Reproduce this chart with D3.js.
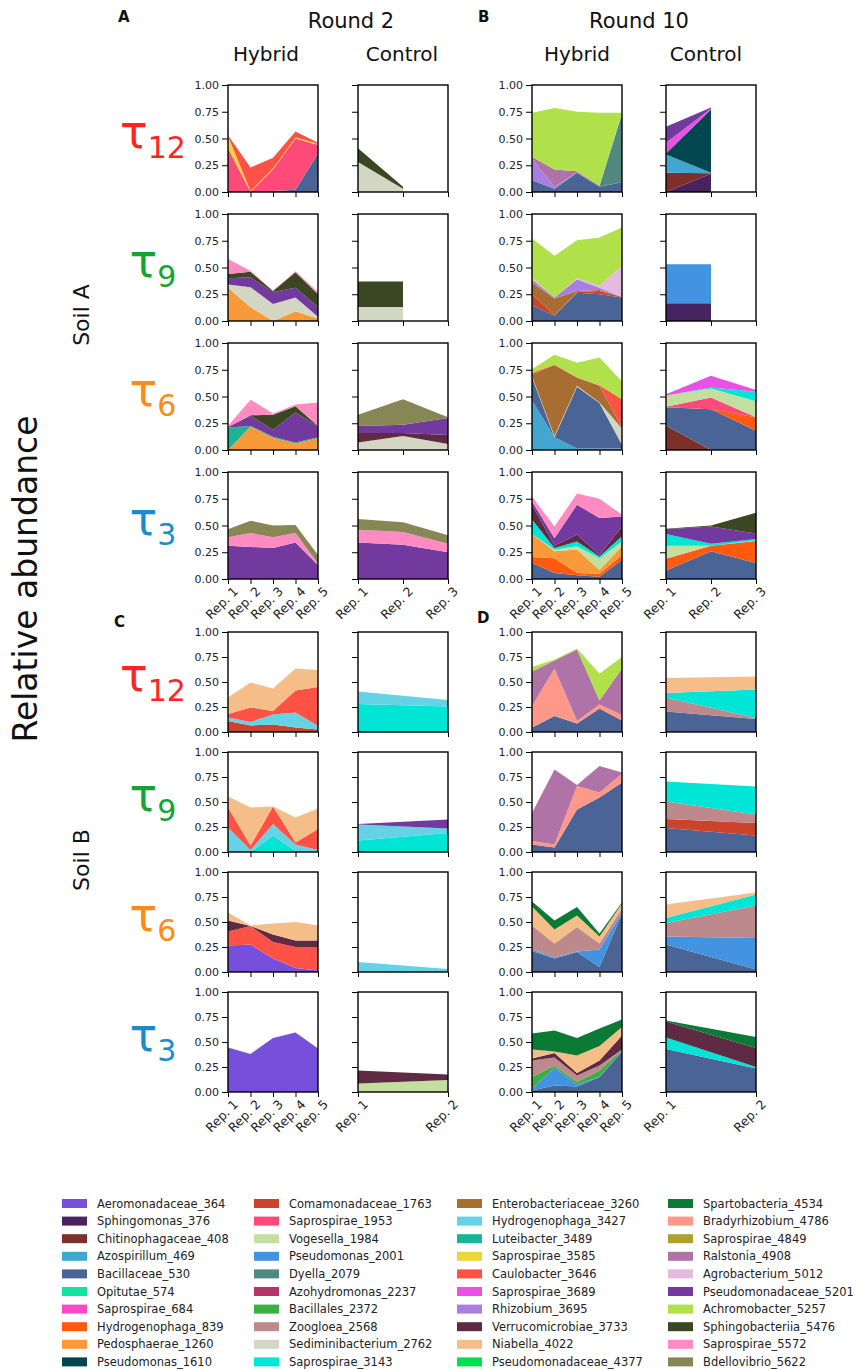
<!DOCTYPE html>
<html>
<head>
<meta charset="utf-8">
<script src="https://cdn.jsdelivr.net/npm/d3@7/dist/d3.min.js"></script>
<style>
  body { margin: 0; background: #fff; }
  text { font-family: "DejaVu Sans", sans-serif; }
</style>
</head>
<body>
<svg id="fig" width="857" height="1370"></svg>
<script>
// taxa in legend order (also the stacking order, bottom to top)
const taxa = ["Aeromonadaceae_364", "Sphingomonas_376", "Chitinophagaceae_408", "Azospirillum_469", "Bacillaceae_530",
  "Opitutae_574", "Saprospirae_684", "Hydrogenophaga_839", "Pedosphaerae_1260", "Pseudomonas_1610",
  "Comamonadaceae_1763", "Saprospirae_1953", "Vogesella_1984", "Pseudomonas_2001", "Dyella_2079",
  "Azohydromonas_2237", "Bacillales_2372", "Zoogloea_2568", "Sediminibacterium_2762", "Saprospirae_3143",
  "Enterobacteriaceae_3260", "Hydrogenophaga_3427", "Luteibacter_3489", "Saprospirae_3585", "Caulobacter_3646",
  "Saprospirae_3689", "Rhizobium_3695", "Verrucomicrobiae_3733", "Niabella_4022", "Pseudomonadaceae_4377",
  "Spartobacteria_4534", "Bradyrhizobium_4786", "Saprospirae_4849", "Ralstonia_4908", "Agrobacterium_5012",
  "Pseudomonadaceae_5201", "Achromobacter_5257", "Sphingobacteriia_5476", "Saprospirae_5572", "Bdellovibrio_5622"];
const taxaColors = ["#7650db", "#47235f", "#7d2f2a", "#42a7d0", "#4a6595",
  "#12e3a0", "#f74bc3", "#ff5a0f", "#f99a3a", "#02464f",
  "#c9442a", "#fe4a78", "#c3dfa0", "#4293e0", "#51897f",
  "#b5346a", "#3bb040", "#bd898d", "#d3d6c2", "#00e5d6",
  "#a86d31", "#66d2e5", "#1bb495", "#edd53a", "#ff5247",
  "#e951e4", "#a87ee0", "#5f2a43", "#f5bd87", "#00e050",
  "#0b7a34", "#ff9888", "#afa030", "#b073a8", "#e5badf",
  "#723a9f", "#b0e04a", "#3a4722", "#ff8bc2", "#878755"];

const tauNames = ["12", "9", "6", "3"];
const tauColors = ["#ff2424", "#12a534", "#ff8a14", "#1a8ccc"];
const hybridReps = ["Rep. 1", "Rep. 2", "Rep. 3", "Rep. 4", "Rep. 5"];
const controlRepsA = ["Rep. 1", "Rep. 2", "Rep. 3"];
const controlRepsB = ["Rep. 1", "Rep. 2"];
const yTicks = [0, 0.25, 0.5, 0.75, 1];

// ---- Soil A, Round 2 ----
const A2_t12_hybrid = [
  ["Bacillaceae_530", [0.01, 0.0, 0.01, 0.02, 0.36]],
  ["Saprospirae_1953", [0.40, 0.0, 0.20, 0.48, 0.08]],
  ["Saprospirae_3585", [0.11, 0.01, 0.01, 0.01, 0.01]],
  ["Caulobacter_3646", [0.01, 0.22, 0.10, 0.055, 0.01]]];
const A2_t12_control = [
  ["Sediminibacterium_2762", [0.28, 0.03, null]],
  ["Sphingobacteriia_5476", [0.13, 0.02, null]]];
const A2_t9_hybrid = [
  ["Pedosphaerae_1260", [0.31, 0.13, 0.0, 0.09, 0.02]],
  ["Sediminibacterium_2762", [0.03, 0.185, 0.16, 0.13, 0.02]],
  ["Pseudomonadaceae_5201", [0.06, 0.095, 0.11, 0.09, 0.09]],
  ["Sphingobacteriia_5476", [0.04, 0.05, 0.01, 0.145, 0.12]],
  ["Saprospirae_5572", [0.14, 0.01, 0.005, 0.01, 0.02]]];
const A2_t9_control = [
  ["Sediminibacterium_2762", [0.13, 0.13, null]],
  ["Sphingobacteriia_5476", [0.24, 0.24, null]]];
const A2_t6_hybrid = [
  ["Pedosphaerae_1260", [0.0, 0.22, 0.115, 0.06, 0.11]],
  ["Luteibacter_3489", [0.21, 0.005, 0.01, 0.01, 0.01]],
  ["Pseudomonadaceae_5201", [0.005, 0.095, 0.065, 0.28, 0.10]],
  ["Sphingobacteriia_5476", [0.0, 0.005, 0.14, 0.06, 0.005]],
  ["Saprospirae_5572", [0.01, 0.145, 0.01, 0.015, 0.22]]];
const A2_t6_control = [
  ["Sediminibacterium_2762", [0.07, 0.13, 0.055]],
  ["Verrucomicrobiae_3733", [0.09, 0.03, 0.085]],
  ["Pseudomonadaceae_5201", [0.065, 0.075, 0.16]],
  ["Bdellovibrio_5622", [0.105, 0.24, 0.005]]];
const A2_t3_hybrid = [
  ["Pseudomonadaceae_5201", [0.31, 0.30, 0.29, 0.34, 0.13]],
  ["Saprospirae_5572", [0.08, 0.13, 0.10, 0.09, 0.015]],
  ["Bdellovibrio_5622", [0.075, 0.115, 0.11, 0.075, 0.08]]];
const A2_t3_control = [
  ["Pseudomonadaceae_5201", [0.34, 0.32, 0.25]],
  ["Saprospirae_5572", [0.12, 0.12, 0.08]],
  ["Bdellovibrio_5622", [0.10, 0.09, 0.08]]];

// ---- Soil A, Round 10 ----
const A10_t12_hybrid = [
  ["Bacillaceae_530", [0.11, 0.03, 0.18, 0.05, 0.09]],
  ["Dyella_2079", [0.0, 0.0, 0.0, 0.005, 0.64]],
  ["Rhizobium_3695", [0.2, 0.02, 0.005, 0.0, 0.0]],
  ["Ralstonia_4908", [0.02, 0.16, 0.01, 0.005, 0.005]],
  ["Achromobacter_5257", [0.41, 0.575, 0.555, 0.68, 0.005]]];
const A10_t12_control = [
  ["Sphingomonas_376", [0.0, 0.17, null]],
  ["Chitinophagaceae_408", [0.18, 0.005, null]],
  ["Azospirillum_469", [0.17, 0.005, null]],
  ["Pseudomonas_1610", [0.01, 0.59, null]],
  ["Saprospirae_3689", [0.10, 0.01, null]],
  ["Pseudomonadaceae_5201", [0.15, 0.01, null]]];
const A10_t9_hybrid = [
  ["Bacillaceae_530", [0.15, 0.05, 0.265, 0.25, 0.22]],
  ["Comamonadaceae_1763", [0.1, 0.005, 0.005, 0.03, 0.005]],
  ["Enterobacteriaceae_3260", [0.11, 0.155, 0.01, 0.01, 0.0]],
  ["Rhizobium_3695", [0.03, 0.01, 0.11, 0.02, 0.0]],
  ["Agrobacterium_5012", [0.015, 0.0, 0.01, 0.02, 0.29]],
  ["Achromobacter_5257", [0.365, 0.39, 0.355, 0.45, 0.36]]];
const A10_t9_control = [
  ["Sphingomonas_376", [0.165, 0.165, null]],
  ["Pseudomonas_2001", [0.365, 0.365, null]]];
const A10_t6_hybrid = [
  ["Azospirillum_469", [0.465, 0.12, 0.015, 0.015, 0.015]],
  ["Bacillaceae_530", [0.215, 0.0, 0.575, 0.425, 0.035]],
  ["Sediminibacterium_2762", [0.01, 0.01, 0.01, 0.005, 0.15]],
  ["Enterobacteriaceae_3260", [0.015, 0.665, 0.075, 0.155, 0.01]],
  ["Caulobacter_3646", [0.015, 0.005, 0.005, 0.005, 0.265]],
  ["Achromobacter_5257", [0.035, 0.09, 0.135, 0.26, 0.165]]];
const A10_t6_control = [
  ["Chitinophagaceae_408", [0.23, 0.0, 0.0]],
  ["Bacillaceae_530", [0.17, 0.38, 0.18]],
  ["Hydrogenophaga_839", [0.0, 0.0, 0.125]],
  ["Saprospirae_1953", [0.005, 0.11, 0.0]],
  ["Vogesella_1984", [0.105, 0.085, 0.15]],
  ["Saprospirae_3143", [0.0, 0.01, 0.09]],
  ["Saprospirae_3689", [0.01, 0.11, 0.015]]];
const A10_t3_hybrid = [
  ["Bacillaceae_530", [0.15, 0.055, 0.035, 0.02, 0.18]],
  ["Hydrogenophaga_839", [0.055, 0.14, 0.02, 0.03, 0.045]],
  ["Pedosphaerae_1260", [0.215, 0.065, 0.22, 0.035, 0.08]],
  ["Vogesella_1984", [0.0, 0.015, 0.03, 0.11, 0.045]],
  ["Saprospirae_3143", [0.135, 0.015, 0.045, 0.015, 0.05]],
  ["Verrucomicrobiae_3733", [0.14, 0.02, 0.065, 0.015, 0.09]],
  ["Pseudomonadaceae_5201", [0.03, 0.07, 0.28, 0.345, 0.095]],
  ["Saprospirae_5572", [0.045, 0.11, 0.105, 0.18, 0.015]]];
const A10_t3_control = [
  ["Bacillaceae_530", [0.08, 0.26, 0.15]],
  ["Hydrogenophaga_839", [0.11, 0.05, 0.205]],
  ["Vogesella_1984", [0.12, 0.0, 0.005]],
  ["Saprospirae_3143", [0.11, 0.02, 0.015]],
  ["Pseudomonadaceae_5201", [0.045, 0.16, 0.05]],
  ["Sphingobacteriia_5476", [0.005, 0.01, 0.195]]];

// ---- Soil B, Round 2 ----
const B2_t12_hybrid = [
  ["Comamonadaceae_1763", [0.11, 0.065, 0.075, 0.045, 0.025]],
  ["Hydrogenophaga_3427", [0.035, 0.035, 0.1, 0.15, 0.035]],
  ["Caulobacter_3646", [0.035, 0.145, 0.035, 0.22, 0.39]],
  ["Niabella_4022", [0.165, 0.25, 0.225, 0.22, 0.17]]];
const B2_t12_control = [
  ["Saprospirae_3143", [0.28, 0.255]],
  ["Hydrogenophaga_3427", [0.125, 0.065]]];
const B2_t9_hybrid = [
  ["Saprospirae_3143", [0.0, 0.0, 0.165, 0.01, 0.0]],
  ["Hydrogenophaga_3427", [0.245, 0.02, 0.115, 0.065, 0.02]],
  ["Caulobacter_3646", [0.2, 0.045, 0.175, 0.02, 0.21]],
  ["Niabella_4022", [0.11, 0.38, 0.0, 0.25, 0.205]]];
const B2_t9_control = [
  ["Saprospirae_3143", [0.115, 0.19]],
  ["Hydrogenophaga_3427", [0.16, 0.045]],
  ["Pseudomonadaceae_5201", [0.005, 0.09]]];
const B2_t6_hybrid = [
  ["Aeromonadaceae_364", [0.265, 0.275, 0.135, 0.04, 0.015]],
  ["Caulobacter_3646", [0.14, 0.185, 0.165, 0.21, 0.235]],
  ["Verrucomicrobiae_3733", [0.11, 0.0, 0.075, 0.065, 0.065]],
  ["Niabella_4022", [0.08, 0.005, 0.11, 0.185, 0.15]]];
const B2_t6_control = [
  ["Hydrogenophaga_3427", [0.10, 0.03]]];
const B2_t3_hybrid = [
  ["Aeromonadaceae_364", [0.445, 0.38, 0.54, 0.595, 0.435]]];
const B2_t3_control = [
  ["Vogesella_1984", [0.085, 0.12]],
  ["Verrucomicrobiae_3733", [0.13, 0.055]]];

// ---- Soil B, Round 10 ----
const B10_t12_hybrid = [
  ["Bacillaceae_530", [0.045, 0.16, 0.085, 0.235, 0.115]],
  ["Bradyrhizobium_4786", [0.215, 0.475, 0.025, 0.04, 0.055]],
  ["Ralstonia_4908", [0.345, 0.08, 0.715, 0.04, 0.465]],
  ["Achromobacter_5257", [0.045, 0.01, 0.01, 0.27, 0.115]]];
const B10_t12_control = [
  ["Bacillaceae_530", [0.205, 0.13]],
  ["Zoogloea_2568", [0.14, 0.01]],
  ["Saprospirae_3143", [0.045, 0.285]],
  ["Niabella_4022", [0.15, 0.13]]];
const B10_t9_hybrid = [
  ["Bacillaceae_530", [0.075, 0.045, 0.425, 0.545, 0.695]],
  ["Bradyrhizobium_4786", [0.035, 0.03, 0.235, 0.05, 0.09]],
  ["Ralstonia_4908", [0.28, 0.75, 0.01, 0.265, 0.01]]];
const B10_t9_control = [
  ["Bacillaceae_530", [0.24, 0.165]],
  ["Comamonadaceae_1763", [0.09, 0.125]],
  ["Zoogloea_2568", [0.175, 0.085]],
  ["Saprospirae_3143", [0.2, 0.28]]];
const B10_t6_hybrid = [
  ["Bacillaceae_530", [0.21, 0.135, 0.20, 0.05, 0.585]],
  ["Pseudomonas_2001", [0.015, 0.01, 0.005, 0.175, 0.01]],
  ["Zoogloea_2568", [0.24, 0.14, 0.245, 0.06, 0.04]],
  ["Niabella_4022", [0.19, 0.14, 0.115, 0.07, 0.05]],
  ["Spartobacteria_4534", [0.05, 0.09, 0.085, 0.03, 0.01]]];
const B10_t6_control = [
  ["Bacillaceae_530", [0.275, 0.025]],
  ["Pseudomonas_2001", [0.08, 0.315]],
  ["Zoogloea_2568", [0.135, 0.325]],
  ["Saprospirae_3143", [0.05, 0.11]],
  ["Niabella_4022", [0.135, 0.02]]];
const B10_t3_hybrid = [
  ["Bacillaceae_530", [0.015, 0.065, 0.055, 0.15, 0.405]],
  ["Pseudomonas_2001", [0.02, 0.18, 0.02, 0.005, 0.005]],
  ["Bacillales_2372", [0.115, 0.02, 0.025, 0.06, 0.01]],
  ["Zoogloea_2568", [0.165, 0.08, 0.065, 0.05, 0.005]],
  ["Verrucomicrobiae_3733", [0.02, 0.045, 0.025, 0.05, 0.14]],
  ["Niabella_4022", [0.09, 0.015, 0.175, 0.145, 0.085]],
  ["Spartobacteria_4534", [0.16, 0.21, 0.175, 0.175, 0.075]]];
const B10_t3_control = [
  ["Bacillaceae_530", [0.43, 0.235]],
  ["Saprospirae_3143", [0.115, 0.015]],
  ["Verrucomicrobiae_3733", [0.16, 0.19]],
  ["Spartobacteria_4534", [0.01, 0.11]]];

// panel grid: col 0 = R2 hybrid, 1 = R2 control, 2 = R10 hybrid, 3 = R10 control
const panels = [
  ["A", 0, [A2_t12_hybrid, A2_t9_hybrid, A2_t6_hybrid, A2_t3_hybrid]],
  ["A", 1, [A2_t12_control, A2_t9_control, A2_t6_control, A2_t3_control]],
  ["A", 2, [A10_t12_hybrid, A10_t9_hybrid, A10_t6_hybrid, A10_t3_hybrid]],
  ["A", 3, [A10_t12_control, A10_t9_control, A10_t6_control, A10_t3_control]],
  ["B", 0, [B2_t12_hybrid, B2_t9_hybrid, B2_t6_hybrid, B2_t3_hybrid]],
  ["B", 1, [B2_t12_control, B2_t9_control, B2_t6_control, B2_t3_control]],
  ["B", 2, [B10_t12_hybrid, B10_t9_hybrid, B10_t6_hybrid, B10_t3_hybrid]],
  ["B", 3, [B10_t12_control, B10_t9_control, B10_t6_control, B10_t3_control]]
];

const svg = d3.select("#fig");
const colX = [228, 358, 532, 666];
const panelW = 90;
const layout = {
  A: { top: 85, pitch: 129, h: 107 },
  B: { top: 632, pitch: 120, h: 100 }
};
const color = d3.scaleOrdinal().domain(taxa).range(taxaColors);

function drawPanel(soil, col, row, data) {
  const L = layout[soil];
  const top = L.top + row * L.pitch, h = L.h, left = colX[col];
  const isHybrid = col % 2 === 0;
  const reps = isHybrid ? hybridReps : (soil === "A" ? controlRepsA : controlRepsB);
  const x = d3.scaleLinear().domain([0, reps.length - 1]).range([left, left + panelW]);
  const y = d3.scaleLinear().domain([0, 1]).range([top + h, top]);
  const g = svg.append("g");

  // stack layers in legend order
  const layers = data.slice().sort((a, b) => taxa.indexOf(a[0]) - taxa.indexOf(b[0]));
  const base = reps.map(() => 0);
  const area = d3.area()
    .defined(d => d.y1 !== null)
    .x(d => x(d.i))
    .y0(d => y(d.y0))
    .y1(d => y(d.y1));
  layers.forEach(([name, vals]) => {
    const pts = vals.map((v, i) => ({ i: i, y0: base[i], y1: v === null ? null : base[i] + v }));
    vals.forEach((v, i) => { if (v !== null) base[i] += v; });
    g.append("path").attr("d", area(pts)).attr("fill", color(name));
  });

  // axes
  const yAxis = d3.axisLeft(y).tickValues(yTicks).tickSize(6).tickPadding(3)
    .tickFormat(isHybrid ? d3.format(".2f") : "");
  const ya = g.append("g").attr("transform", `translate(${left},0)`).call(yAxis);
  const xAxis = d3.axisBottom(x).tickValues(d3.range(reps.length)).tickSize(5).tickFormat("");
  const xa = g.append("g").attr("transform", `translate(0,${top + h})`).call(xAxis);
  [ya, xa].forEach(a => {
    a.select(".domain").remove();
    a.selectAll("text").attr("font-size", 11).attr("fill", "#222").attr("font-family", "DejaVu Sans");
  });

  g.append("rect").attr("x", left).attr("y", top).attr("width", panelW).attr("height", h)
    .attr("fill", "none").attr("stroke", "#000").attr("stroke-width", 1.4);

  if (row === 3) {
    reps.forEach((r, i) => {
      g.append("text")
        .attr("transform", `translate(${x(i) + 11},${top + h + 13}) rotate(-45)`)
        .attr("text-anchor", "end")
        .attr("font-size", 12.5)
        .attr("fill", "#222")
        .text(r);
    });
  }
}

panels.forEach(([soil, col, rows]) => rows.forEach((d, r) => drawPanel(soil, col, r, d)));

// tau labels
["A", "B"].forEach(soil => {
  const L = layout[soil];
  tauNames.forEach((t, r) => {
    const cy = L.top + r * L.pitch + L.h / 2;
    const txt = svg.append("text").attr("x", 153).attr("y", cy + 9)
      .attr("text-anchor", "middle").attr("fill", tauColors[r]);
    txt.append("tspan").attr("font-size", 46).text("τ");
    txt.append("tspan").attr("font-size", 30).attr("dy", 10).text(t);
  });
});

// titles
const titles = [
  ["Round 2", 351, 28, 21], ["Round 10", 639, 28, 21],
  ["Hybrid", 266, 61, 20], ["Control", 402, 61, 20],
  ["Hybrid", 577, 61, 20], ["Control", 706, 61, 20]
];
titles.forEach(([t, x, y, s]) => {
  svg.append("text").attr("x", x).attr("y", y).attr("text-anchor", "middle")
    .attr("font-size", s).attr("fill", "#111").text(t);
});
[["A", 118, 22], ["B", 478, 22], ["C", 114, 627], ["D", 477, 623]].forEach(([t, x, y]) => {
  svg.append("text").attr("x", x).attr("y", y).attr("font-size", 15)
    .attr("font-weight", "bold").attr("fill", "#111").text(t);
});

svg.append("text").attr("transform", "translate(37,579) rotate(-90)")
  .attr("text-anchor", "middle").attr("font-size", 33).attr("fill", "#111").text("Relative abundance");
svg.append("text").attr("transform", "translate(89,315) rotate(-90)")
  .attr("text-anchor", "middle").attr("font-size", 22).attr("fill", "#111").text("Soil A");
svg.append("text").attr("transform", "translate(89,860) rotate(-90)")
  .attr("text-anchor", "middle").attr("font-size", 22).attr("fill", "#111").text("Soil B");

// legend: 4 columns of 10
const legendX = [62, 254, 457, 668];
const legend = svg.append("g");
taxa.forEach((name, i) => {
  const c = Math.floor(i / 10), r = i % 10;
  const cy = 1203.5 + r * 17.6;
  legend.append("rect").attr("x", legendX[c]).attr("y", cy - 4.5).attr("width", 25).attr("height", 9)
    .attr("fill", color(name));
  legend.append("text").attr("x", legendX[c] + 35).attr("y", cy + 4)
    .attr("font-size", 11.5).attr("fill", "#222").text(name);
});
</script>
</body>
</html>
